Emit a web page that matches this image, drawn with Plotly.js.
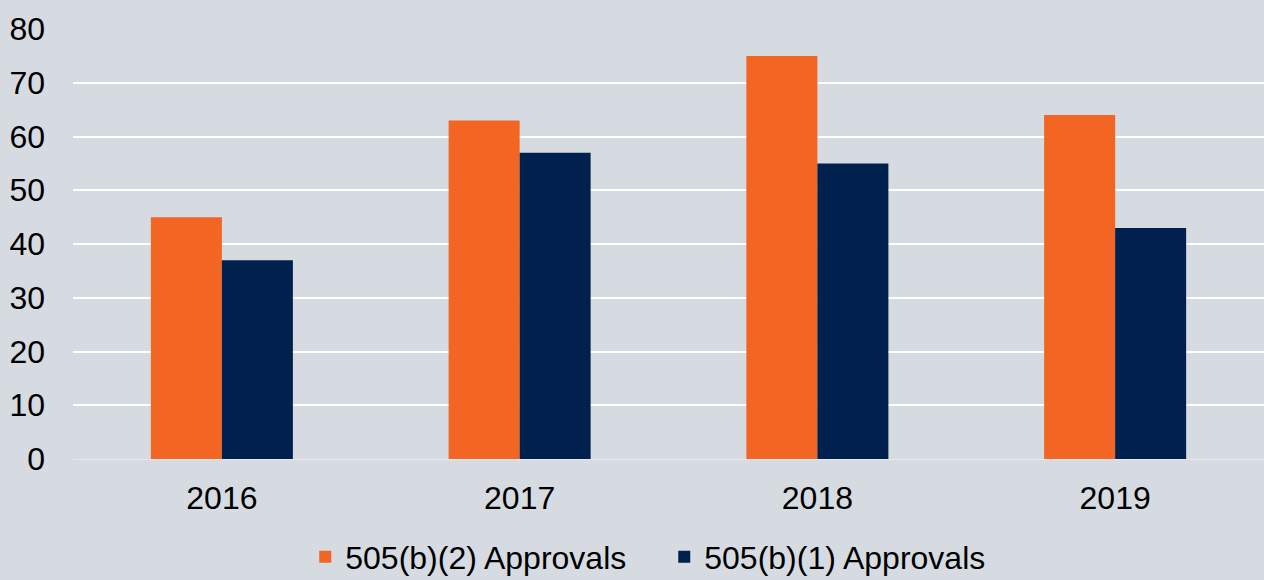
<!DOCTYPE html>
<html>
<head>
<meta charset="utf-8">
<script src="https://cdn.plot.ly/plotly-3.0.1.min.js"></script>
<style>html,body{margin:0;padding:0;background:#d6dbe2;}#chart{width:1264px;height:580px;}</style>
</head>
<body>
<div id="chart"></div>
<script>
const years = ['2016', '2017', '2018', '2019'];
const b2Approvals = [45, 63, 75, 64];
const b1Approvals = [37, 57, 55, 43];
const seriesNames = ['505(b)(2) Approvals', '505(b)(1) Approvals'];
const yTicks = [0, 10, 20, 30, 40, 50, 60, 70, 80];

const font = {family: 'Liberation Sans, Arial, sans-serif', size: 32, color: '#000000'};

const data = [
  {type: 'bar', x: years, y: b2Approvals, name: seriesNames[0], marker: {color: '#f26522'}, hoverinfo: 'none'},
  {type: 'bar', x: years, y: b1Approvals, name: seriesNames[1], marker: {color: '#00204e'}, hoverinfo: 'none'}
];

const layout = {
  width: 1264, height: 580,
  paper_bgcolor: '#d6dbe2', plot_bgcolor: '#d6dbe2',
  margin: {l: 73, r: 0, t: 29, b: 121},
  barmode: 'group', bargap: 0.523, bargroupgap: 0,
  font: font,
  showlegend: true,
  legend: {orientation: 'h', xref: 'paper', x: 0.195, xanchor: 'left', yref: 'container', y: 0.0397, yanchor: 'middle',
           font: font, itemwidth: 30, entrywidth: 314, entrywidthmode: 'pixels', tracegroupgap: 0, bgcolor: 'rgba(0,0,0,0)'},
  xaxis: {type: 'category', showgrid: false, zeroline: false, showline: false, ticks: '', tickfont: font, ticklabelstandoff: 17, fixedrange: true},
  yaxis: {range: [0, 80], tickvals: yTicks, showgrid: true, gridcolor: '#ffffff', gridwidth: 2, zeroline: true, zerolinecolor: '#e4e7eb', zerolinewidth: 1, showline: false, ticks: '', tickfont: font, ticklabelstandoff: 27, fixedrange: true}
};

Plotly.newPlot('chart', data, layout, {displayModeBar: false, staticPlot: true});
</script>
</body>
</html>
